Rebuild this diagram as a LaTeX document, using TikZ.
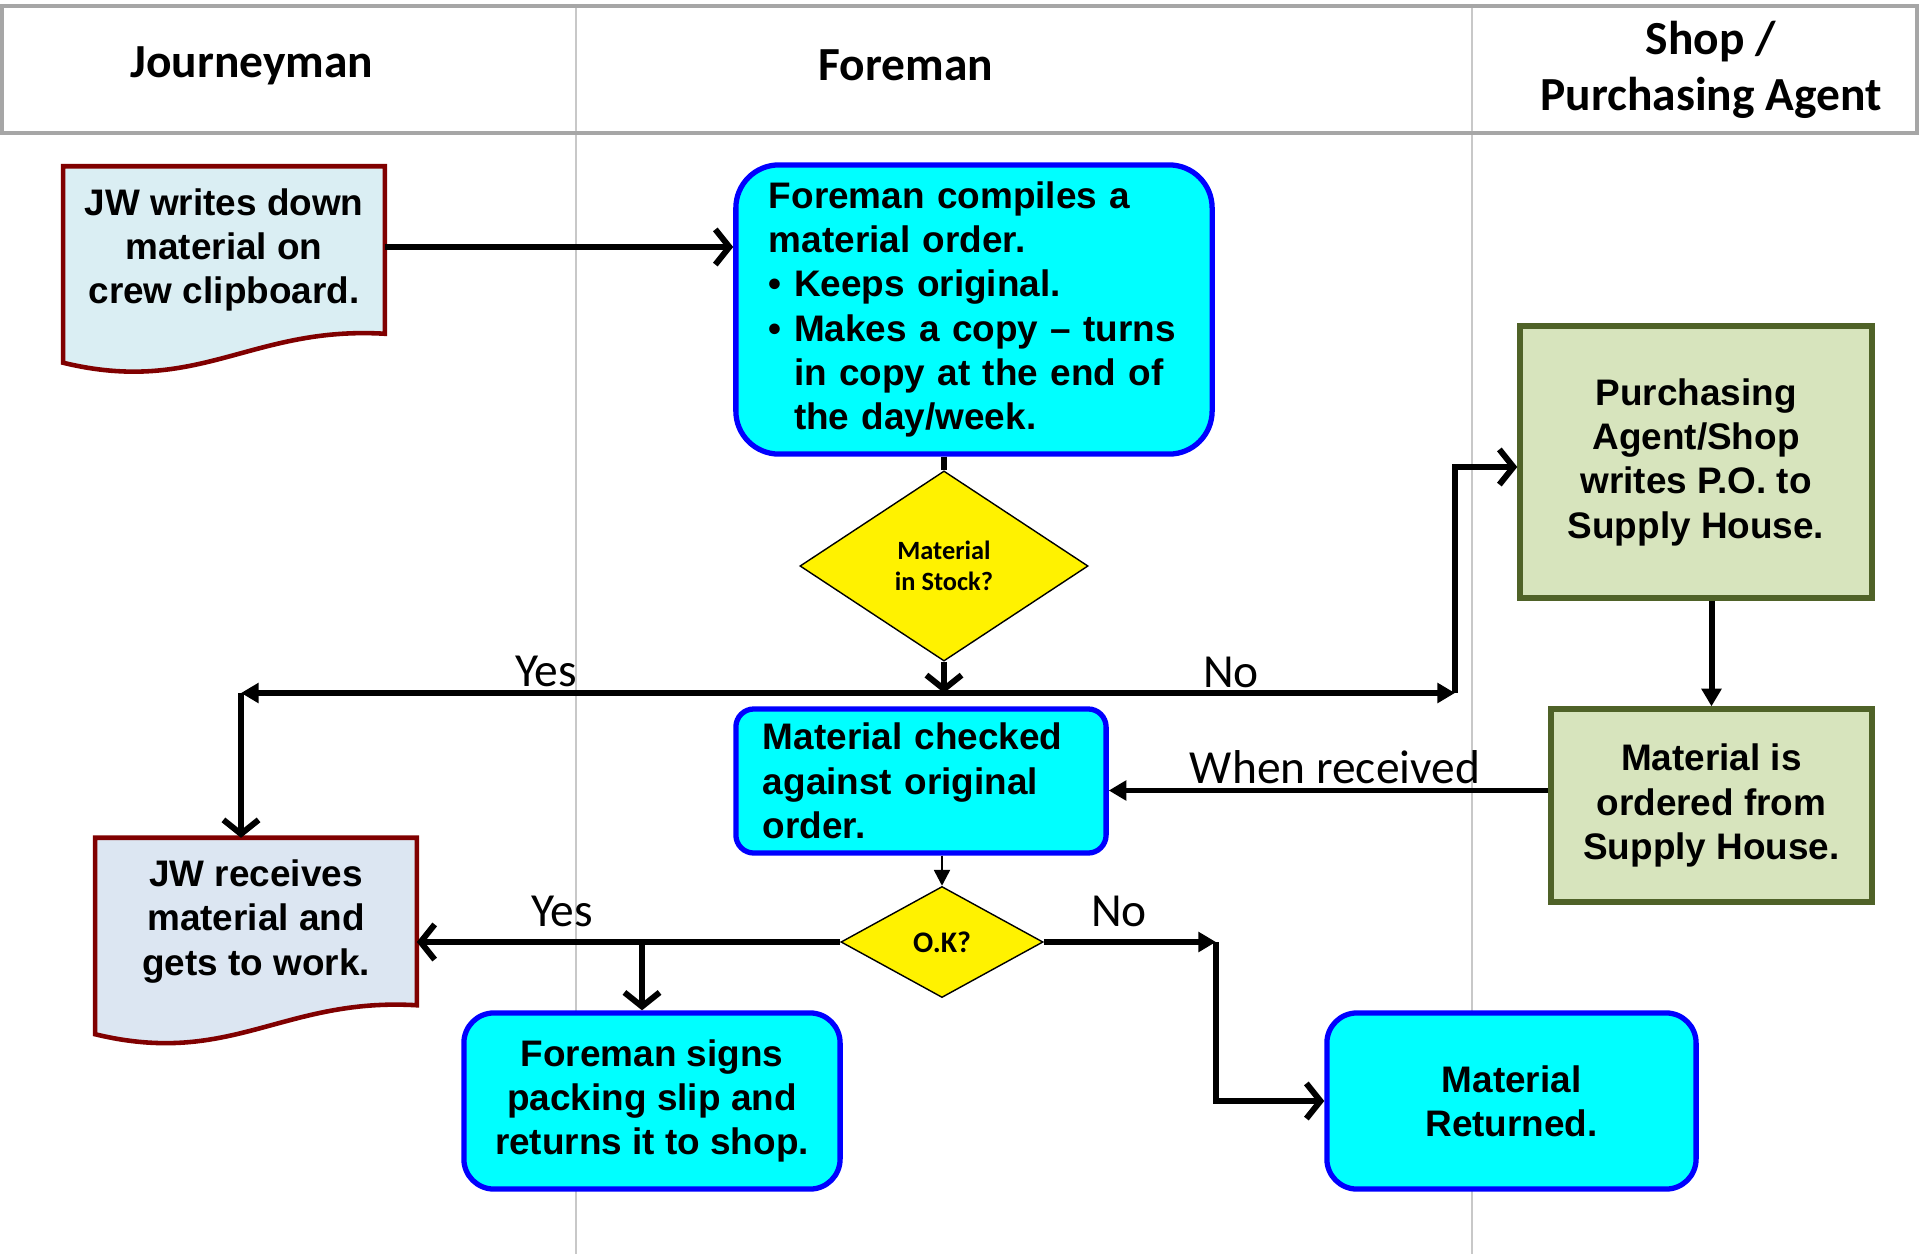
\documentclass[tikz,border=0pt]{standalone}
\usepackage{fontspec}
\setmainfont{Liberation Sans}
\newfontfamily\calfont{Carlito}
\usepackage{tikz}
\usetikzlibrary{shapes.geometric, arrows.meta, calc, backgrounds}

\definecolor{procfill}{HTML}{00FFFF}
\definecolor{procedge}{HTML}{0000FF}
\definecolor{docfillA}{HTML}{DAEEF3}
\definecolor{docfillB}{HTML}{DCE6F2}
\definecolor{docedge}{HTML}{800000}
\definecolor{agentfill}{HTML}{D7E4BD}
\definecolor{agentedge}{HTML}{4F6228}
\definecolor{hdrgray}{HTML}{A6A6A6}
\definecolor{lanegray}{HTML}{C8C8C8}

\newcommand{\cardfont}{\fontsize{10.5}{12.6}\selectfont\bfseries}

\begin{document}
\begin{tikzpicture}[x=0.01cm, y=-0.01cm,
    procbox/.style={draw=procedge, fill=procfill, line width=1.5pt, font=\cardfont, align=center},
    docbox/.style={font=\cardfont, align=center, minimum width=3.2cm, minimum height=1.66cm, inner sep=0pt},
    docline/.style={draw=docedge, line width=1.3pt},
    agentbox/.style={draw=agentedge, fill=agentfill, line width=1.5pt, font=\cardfont, align=center},
    decision/.style={diamond, draw, fill=yellow, line width=0.4pt, inner sep=0pt, align=center},
    header/.style={font=\calfont\bfseries\fontsize{13.5}{16}\selectfont, align=center},
    lbltext/.style={font=\calfont\fontsize{13.5}{16}\selectfont},
    conn/.style={line width=1.7pt},
    arrow/.style={conn, -{Straight Barb[length=4pt, width=10pt]}},
    fillarrow/.style={conn, -{Triangle[length=5pt, width=5.5pt]}},
    thinarrow/.style={line width=0.7pt, -{Triangle[length=4.5pt, width=4.5pt]}},
]
\useasboundingbox (0,0) rectangle (1920,1254);

% Swimlane header
\draw[hdrgray, line width=1.4pt] (2,6) rectangle (1917,133);
\node[header] (hJourney) at (252,66) {Journeyman};
\node[header] (hForeman) at (906,65) {Foreman};
\node[header] (hShop) at (1711,70) {Shop /\\Purchasing Agent};

% Components
\node[docbox] (jwWrite) at (224,250) {JW writes down\\material on\\crew clipboard.};
\node[procbox, minimum width=4.76cm, minimum height=2.89cm, rounded corners=0.43cm, text width=4.1cm, align=left] (compile) at (974,309.5)
    {Foreman compiles a\\material order.\\\textbullet\ Keeps original.\\\textbullet\ Makes a copy – turns\\\hphantom{\textbullet\ }in copy at the end of\\\hphantom{\textbullet\ }the day/week.};
\node[decision, minimum width=2.88cm, minimum height=1.9cm, font=\calfont\bfseries\fontsize{7.5}{9}\selectfont] (stock) at (944,566) {Material\\in Stock?};

\node[agentbox, minimum width=3.52cm, minimum height=2.72cm] (purch) at (1696,462) {Purchasing\\Agent/Shop\\writes P.O. to\\Supply House.};
\node[agentbox, minimum width=3.21cm, minimum height=1.93cm] (order) at (1711.5,805.5) {Material is\\ordered from\\Supply House.};

\node[procbox, minimum width=3.7cm, minimum height=1.44cm, rounded corners=0.18cm, text width=3.16cm, align=left] (check) at (921,781) {Material checked\\against original\\order.};
\node[decision, minimum width=2.02cm, minimum height=1.11cm, font=\calfont\bfseries\fontsize{8.5}{10}\selectfont] (ok) at (942,942) {O.K?};

\node[docbox] (jwRecv) at (256,921.5) {JW receives\\material and\\gets to work.};
\node[procbox, minimum width=3.76cm, minimum height=1.76cm, rounded corners=0.3cm] (sign) at (652,1101) {Foreman signs\\packing slip and\\returns it to shop.};
\node[procbox, minimum width=3.69cm, minimum height=1.76cm, rounded corners=0.3cm] (ret) at (1511.5,1101) {Material\\Returned.};

% Lanes and document outlines
\begin{scope}[on background layer]
\draw[lanegray, line width=0.6pt] (576,6) -- (576,1254);
\draw[lanegray, line width=0.6pt] (1472,6) -- (1472,1254);
\draw[docline, fill=docfillA] (jwWrite.north west) -- (jwWrite.north east) -- (jwWrite.south east)
    .. controls +(-134,-8) and +(136,33) .. ($(jwWrite.south west)+(0,29)$) -- cycle;
\draw[docline, fill=docfillB] (jwRecv.north west) -- (jwRecv.north east) -- (jwRecv.south east)
    .. controls +(-134,-8) and +(136,33) .. ($(jwRecv.south west)+(0,29)$) -- cycle;
\end{scope}

% Junctions
\coordinate (stockJ) at (944,693);
\coordinate (yesTurn) at (241,693);
\coordinate (noTurn) at (1455,693);
\coordinate (signJ) at (642,942);
\coordinate (noCorner) at (1216,942);

% Connections
\draw[arrow] ([yshift=0.03cm]jwWrite.east) -- ([yshift=0.03cm]jwWrite.east -| compile.west);
\draw[conn] (stock.north |- compile.south) -- (stock.north);
\draw[arrow] (stock.south) -- (stockJ);
\draw[fillarrow] (stockJ) -- (yesTurn);
\draw[fillarrow] (stockJ) -- (noTurn);
\draw[arrow] (yesTurn) -- (yesTurn |- jwRecv.north);
\draw[arrow] (noTurn) |- ([yshift=-0.05cm]purch.west);
\draw[fillarrow] (order.north |- purch.south) -- (order.north);
\draw[fillarrow] ([yshift=0.15cm]order.west) -- ([yshift=0.15cm]order.west -| check.east);
\draw[thinarrow] (ok.north |- check.south) -- (ok.north);
\draw[arrow] (ok.west) -- (ok.west -| jwRecv.east);
\draw[arrow] (signJ) -- (signJ |- sign.north);
\draw[fillarrow] (ok.east) -- (noCorner);
\draw[arrow] (noCorner) |- (ret.west);

% Labels
\node[lbltext] (yesStock) at (546,671) {Yes};
\node[lbltext] (noStock) at (1231,672) {No};
\node[lbltext] (whenRecv) at (1335,767) {When received};
\node[lbltext] (yesOk) at (562,911) {Yes};
\node[lbltext] (noOk) at (1119,911) {No};

\end{tikzpicture}
\end{document}
